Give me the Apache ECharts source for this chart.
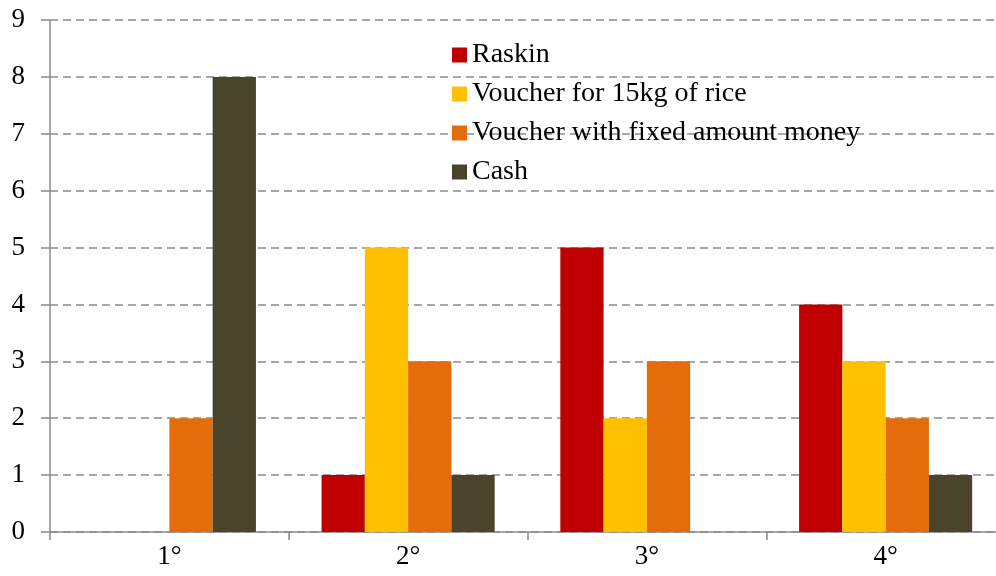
<!DOCTYPE html>
<html>
<head>
<meta charset="utf-8">
<script src="https://cdn.jsdelivr.net/npm/echarts@6/dist/echarts.min.js"></script>
<style>
  html, body { margin: 0; padding: 0; background: #fff; }
  #chart { width: 996px; height: 576px; }
</style>
</head>
<body>
<div id="chart"></div>
<script>
// categories and series values
const categories = ['1°', '2°', '3°', '4°'];
const raskin = [0, 1, 5, 4];
const voucherRice = [0, 5, 2, 3];
const voucherMoney = [2, 3, 3, 2];
const cash = [8, 1, 0, 1];
const seriesNames = ['Raskin', 'Voucher for 15kg of rice', 'Voucher with fixed amount money', 'Cash'];
const colors = ['#C00000', '#FFC000', '#E46C0A', '#4A452A'];

const FONT = '"Liberation Serif", "DejaVu Serif", serif';
const myChart = echarts.init(document.getElementById('chart'));

function bar(name, data, color) {
  return {
    name: name,
    type: 'bar',
    data: data.map(v => v === 0 ? null : v),
    itemStyle: { color: color },
    barGap: '0%',
    barCategoryGap: '27.5%',
    z: 3
  };
}

const option = {
  animation: false,
  color: colors,
  textStyle: { fontFamily: FONT },
  // plot runs a little past the right edge, as in the original
  grid: { left: 50, width: 955, top: 20, bottom: 44, containLabel: false, outerBoundsMode: 'none' },
  legend: {
    orient: 'vertical',
    left: 447,
    top: 36,
    itemWidth: 15,
    itemHeight: 15,
    itemGap: 11,
    icon: 'rect',
    textStyle: { fontFamily: FONT, fontSize: 28, color: '#000', padding: [0, 0, 0, 0] },
    data: seriesNames
  },
  xAxis: {
    type: 'category',
    data: categories,
    axisLine: { lineStyle: { color: '#8c8c8c', width: 1.5 } },
    axisTick: { show: true, length: 8, lineStyle: { color: '#8c8c8c', width: 1.5 } },
    axisLabel: { fontFamily: FONT, fontSize: 27, color: '#000', margin: 11 }
  },
  yAxis: {
    type: 'value',
    min: 0,
    max: 9,
    interval: 1,
    axisLine: { show: true, lineStyle: { color: '#8c8c8c', width: 1.5 } },
    axisTick: { show: true, length: 9, lineStyle: { color: '#8c8c8c', width: 1.5 } },
    axisLabel: { fontFamily: FONT, fontSize: 27, color: '#000', margin: 25 },
    splitLine: { show: true, lineStyle: { color: '#8c8c8c', width: 1.5, type: [8, 5] } }
  },
  series: [
    bar(seriesNames[0], raskin, colors[0]),
    bar(seriesNames[1], voucherRice, colors[1]),
    bar(seriesNames[2], voucherMoney, colors[2]),
    bar(seriesNames[3], cash, colors[3])
  ]
};

myChart.setOption(option);
</script>
</body>
</html>
